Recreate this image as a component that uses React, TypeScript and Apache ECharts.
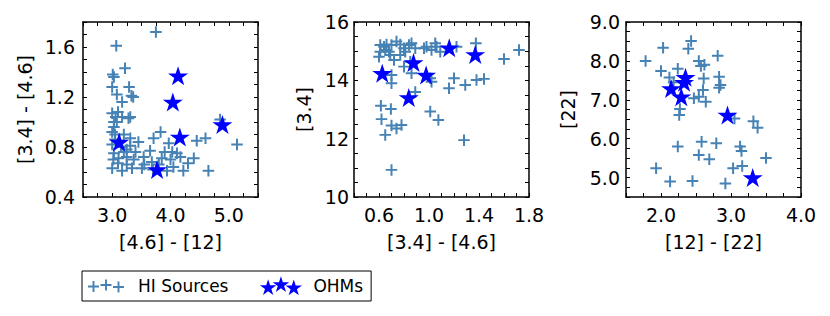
import React, { useEffect, useRef } from "react";
import * as echarts from "echarts";

// ---------- data ----------
const hiPanel1: [number, number][] = [
  [3.75, 1.72], [3.07, 1.61], [3.22, 1.43], [3.01, 1.38], [3.03, 1.36], [3.0, 1.28],
  [3.29, 1.28], [3.08, 1.22], [3.33, 1.21], [3.36, 1.2], [3.17, 1.16], [3.0, 1.07],
  [3.06, 1.04], [3.03, 1.0], [3.17, 1.04], [3.28, 1.03], [3.31, 1.04], [3.03, 0.96],
  [3.0, 0.92], [3.83, 0.92], [3.71, 0.87], [3.45, 0.84], [3.31, 0.81], [3.25, 0.78],
  [3.65, 0.77], [3.97, 0.83], [4.03, 0.76], [3.03, 0.75], [3.11, 0.71], [3.25, 0.72],
  [3.37, 0.7], [3.54, 0.72], [3.68, 0.68], [3.85, 0.71], [4.0, 0.7], [4.17, 0.72],
  [3.0, 0.63], [3.17, 0.61], [3.34, 0.63], [3.51, 0.63], [3.94, 0.61], [4.22, 0.61],
  [4.11, 0.75], [4.4, 0.71], [4.65, 0.61], [4.45, 0.85], [4.6, 0.87], [5.14, 0.82],
  [4.85, 1.02], [3.2, 0.9], [3.31, 0.87], [3.05, 0.86], [3.15, 0.8], [3.2, 0.76],
  [3.1, 0.67], [3.25, 0.66], [3.4, 0.76], [3.55, 0.66], [3.8, 0.66], [3.9, 0.76],
  [4.05, 0.64], [3.7, 0.62], [4.3, 0.67], [3.02, 0.7], [3.0, 0.82], [3.05, 0.9],
  [3.1, 1.08], [3.08, 1.0],
];
const ohmPanel1: [number, number][] = [
  [4.13, 1.37], [4.04, 1.16], [4.89, 0.98], [4.16, 0.88], [3.12, 0.84], [3.77, 0.62],
];

const hiPanel2: [number, number][] = [
  [0.61, 15.21], [0.64, 15.15], [0.66, 15.23], [0.7, 15.21], [0.74, 15.33], [0.77, 15.23],
  [0.8, 15.1], [0.84, 15.21], [0.86, 15.27], [0.89, 15.1], [0.96, 15.1], [1.02, 15.04],
  [1.06, 15.15], [1.09, 14.98], [1.05, 15.27], [0.6, 14.81], [0.69, 14.87], [0.72, 14.7],
  [0.77, 14.87], [0.8, 14.47], [0.85, 14.64], [0.7, 14.18], [0.86, 14.24], [1.01, 14.07],
  [1.02, 13.95], [0.7, 13.9], [0.89, 13.6], [0.61, 14.98], [0.65, 15.04], [0.68, 14.98],
  [0.81, 14.98], [0.98, 15.15], [1.22, 15.15], [1.375, 15.27], [1.72, 15.04], [1.6, 14.73],
  [1.2, 14.07], [1.16, 13.73], [1.29, 13.84], [1.38, 14.01], [1.44, 14.05], [1.01, 12.93],
  [1.075, 12.64], [1.28, 11.95], [0.7, 10.93], [0.615, 13.13], [0.695, 13.02], [0.62, 12.67],
  [0.65, 12.13], [0.7, 12.45], [0.74, 12.35], [0.78, 12.47],
];
const ohmPanel2: [number, number][] = [
  [0.626, 14.24], [0.876, 14.61], [0.977, 14.18], [0.838, 13.41], [1.162, 15.12], [1.37, 14.89],
];

const hiPanel3: [number, number][] = [
  [1.78, 8.0], [2.03, 8.34], [2.43, 8.51], [2.39, 8.31], [2.81, 8.13], [2.54, 8.0],
  [2.57, 7.87], [2.62, 7.9], [2.0, 7.74], [2.12, 7.57], [2.24, 7.8], [2.61, 7.55],
  [2.83, 7.59], [2.85, 7.38], [2.83, 7.31], [2.6, 7.25], [2.47, 7.04], [2.54, 7.08],
  [2.64, 6.95], [2.27, 6.76], [2.26, 6.61], [3.05, 6.52], [3.32, 6.45], [3.38, 6.28],
  [2.24, 5.8], [2.58, 5.92], [2.79, 5.88], [3.13, 5.8], [3.15, 5.68], [2.54, 5.58],
  [2.69, 5.47], [3.5, 5.5], [3.16, 5.3], [3.03, 5.24], [1.93, 5.24], [2.13, 4.9],
  [2.45, 4.91], [2.92, 4.85], [2.18, 7.45],
];
const ohmPanel3: [number, number][] = [
  [2.35, 7.58], [2.33, 7.45], [2.145, 7.29], [2.29, 7.08], [2.95, 6.61], [3.31, 5.0],
];

const xRanges: [number, number, number][] = [[2.5, 5.5, 0.25], [0.4, 1.8, 0.1], [1.5, 4.0, 0.25]];
const yRanges: [number, number, number][] = [[0.4, 1.8, 0.1], [10, 16, 0.5], [4.5, 9.0, 0.25]];
const xLabelSteps: [number, number, number][] = [[1.0, 0, 1], [0.4, 0.2, 1], [1.0, 0, 1]]; // step, offset, decimals
const yLabelSteps: [number, number, number][] = [[0.4, 0, 1], [2, 0, 0], [1.0, 0, 1]];
const xNames = ["[4.6] - [12]", "[3.4] - [4.6]", "[12] - [22]"];
const yNames = ["[3.4] - [4.6]", "[3.4]", "[22]"];
const seriesNames = ["HI Sources", "OHMs"];

// ---------- style ----------
const FONT = "DejaVu Sans";
const HI_COLOR = "#4682b4";
const OHM_COLOR = "#0000ff";
const PLUS =
  "path://M-0.95,-5.5L0.95,-5.5L0.95,-0.95L5.5,-0.95L5.5,0.95L0.95,0.95L0.95,5.5L-0.95,5.5L-0.95,0.95L-5.5,0.95L-5.5,-0.95L-0.95,-0.95Z";
const STAR =
  "path://M0,-100L22.45,-30.9L95.1,-30.9L36.33,11.8L58.8,80.9L0,38.2L-58.8,80.9L-36.33,11.8L-95.1,-30.9L-22.45,-30.9Z";

function plusAt(cx: number, cy: number) {
  const a = 5.5, w = 0.95;
  return `M${cx - w},${cy - a}L${cx + w},${cy - a}L${cx + w},${cy - w}L${cx + a},${cy - w}L${cx + a},${cy + w}L${cx + w},${cy + w}L${cx + w},${cy + a}L${cx - w},${cy + a}L${cx - w},${cy + w}L${cx - a},${cy + w}L${cx - a},${cy - w}L${cx - w},${cy - w}Z`;
}
function starAt(cx: number, cy: number, r: number) {
  const pts: string[] = [];
  for (let k = 0; k < 10; k++) {
    const ang = (-90 + k * 36) * (Math.PI / 180);
    const rr = k % 2 === 0 ? r : r * 0.382;
    pts.push(`${(cx + rr * Math.cos(ang)).toFixed(2)},${(cy + rr * Math.sin(ang)).toFixed(2)}`);
  }
  return "M" + pts.join("L") + "Z";
}
function corners(w: number, h: number) {
  const e = 0.01;
  return `M0,0L${e},0L${e},${e}Z M${w - e},${h - e}L${w},${h - e}L${w},${h}Z`;
}
const LW = 43, LH = 20;
const legendPlusIcon =
  "path://" + corners(LW, LH) + plusAt(5.5, 10.5) + plusAt(18, 9) + plusAt(30.5, 11);
const legendStarIcon =
  "path://" + corners(LW, LH) + starAt(8.7, 12, 8.7) + starAt(21.5, 9, 8.7) + starAt(34.3, 12.3, 8.7);

const grids = [
  { left: 83, top: 22, width: 175, height: 175 },
  { left: 354, top: 22, width: 175, height: 175 },
  { left: 626, top: 22, width: 175, height: 175 },
];
const yLabelMargins = [8, 5, 6];
const yNameGaps = [49, 41, 49];

function fmt(step: number, offset: number, dec: number) {
  return (v: number) => {
    const q = (v - offset) / step;
    if (Math.abs(q - Math.round(q)) < 1e-6) return v.toFixed(dec);
    return "";
  };
}

const lineStyle = { color: "#000", width: 1.5 };
const tickStyle = { show: true, inside: true, length: 4, lineStyle: { color: "#000", width: 1 } };

export default function App() {
  const ref = useRef<HTMLDivElement>(null);
  useEffect(() => {
    if (!ref.current) return;
    const chart = echarts.init(ref.current, undefined, { renderer: "svg" });
    const xAxis: any[] = [];
    const yAxis: any[] = [];
    const series: any[] = [];
    const hiData = [hiPanel1, hiPanel2, hiPanel3];
    const ohmData = [ohmPanel1, ohmPanel2, ohmPanel3];
    for (let i = 0; i < 3; i++) {
      const [xmin, xmax, xint] = xRanges[i];
      const [ymin, ymax, yint] = yRanges[i];
      const [xs, xo, xd] = xLabelSteps[i];
      const [ys, yo, yd] = yLabelSteps[i];
      xAxis.push({
        gridIndex: i, type: "value", position: "bottom", min: xmin, max: xmax, interval: xint,
        axisLine: { show: true, onZero: false, lineStyle },
        axisTick: tickStyle,
        splitLine: { show: false },
        axisLabel: {
          formatter: fmt(xs, xo, xd), color: "#000", fontSize: 19, fontFamily: FONT, margin: 8,
          showMinLabel: true, showMaxLabel: true,
        },
        name: xNames[i], nameLocation: "middle", nameGap: 35,
        nameTextStyle: { color: "#000", fontSize: 19, fontFamily: FONT },
      });
      xAxis.push({
        gridIndex: i, type: "value", position: "top", min: xmin, max: xmax, interval: xint,
        axisLine: { show: true, onZero: false, lineStyle },
        axisTick: tickStyle, splitLine: { show: false }, axisLabel: { show: false },
      });
      yAxis.push({
        gridIndex: i, type: "value", position: "left", min: ymin, max: ymax, interval: yint,
        axisLine: { show: true, onZero: false, lineStyle },
        axisTick: tickStyle,
        splitLine: { show: false },
        axisLabel: {
          formatter: fmt(ys, yo, yd), color: "#000", fontSize: 19, fontFamily: FONT,
          margin: yLabelMargins[i], showMinLabel: true, showMaxLabel: true,
        },
        name: yNames[i], nameLocation: "middle", nameGap: yNameGaps[i], nameRotate: 90,
        nameTextStyle: { color: "#000", fontSize: 19, fontFamily: FONT },
      });
      yAxis.push({
        gridIndex: i, type: "value", position: "right", min: ymin, max: ymax, interval: yint,
        axisLine: { show: true, onZero: false, lineStyle },
        axisTick: tickStyle, splitLine: { show: false }, axisLabel: { show: false },
      });
      series.push({
        name: seriesNames[0], type: "scatter", xAxisIndex: i * 2, yAxisIndex: i * 2,
        data: hiData[i], symbol: PLUS, symbolSize: 11.5,
        itemStyle: { color: HI_COLOR, opacity: 1 }, z: 2,
      });
      series.push({
        name: seriesNames[1], type: "scatter", xAxisIndex: i * 2, yAxisIndex: i * 2,
        data: ohmData[i], symbol: STAR, symbolSize: [20, 19],
        itemStyle: { color: OHM_COLOR, opacity: 1 }, z: 3,
      });
    }
    chart.setOption({
      animation: false,
      backgroundColor: "#fff",
      grid: grids.map((g) => ({ ...g, containLabel: false })),
      xAxis,
      yAxis,
      series,
      legend: {
        left: 82, top: 271,
        orient: "horizontal",
        padding: [5, 8, 5, 6],
        borderColor: "#000", borderWidth: 1, borderRadius: 0,
        itemWidth: LW, itemHeight: LH, itemGap: 31,
        selectedMode: false,
        textStyle: { color: "#000", fontSize: 17, fontFamily: FONT },
        data: [
          { name: seriesNames[0], icon: legendPlusIcon, itemStyle: { color: HI_COLOR, opacity: 1 }, textStyle: { padding: [0, 0, 0, 2] } },
          { name: seriesNames[1], icon: legendStarIcon, itemStyle: { color: OHM_COLOR, opacity: 1 }, textStyle: { padding: [0, 0, 0, 6] } },
        ],
      },
    });
    return () => chart.dispose();
  }, []);
  return (
    <div
      ref={ref}
      style={{ position: "fixed", left: 0, top: 0, width: 830, height: 316, background: "#fff" }}
    />
  );
}
